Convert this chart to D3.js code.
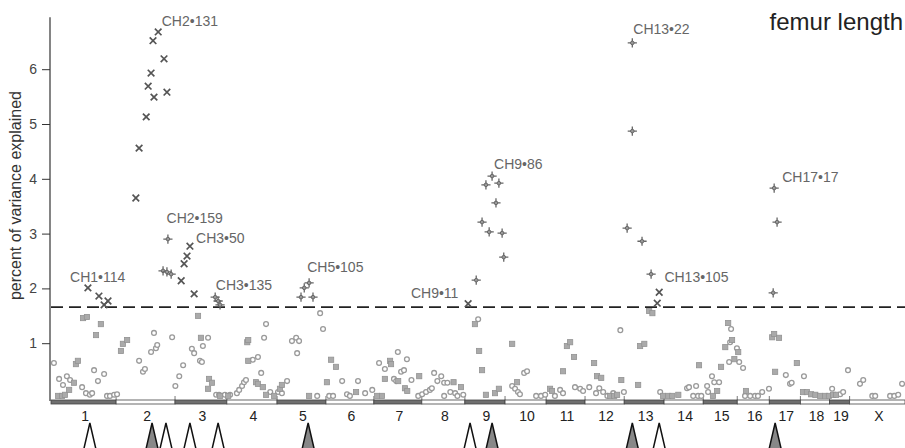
<!DOCTYPE html>
<html>
<head>
<meta charset="utf-8">
<script src="https://cdn.jsdelivr.net/npm/d3@7"></script>
<style>
  body { margin: 0; background: #fff; }
  svg { display: block; font-family: "Liberation Sans", Arial, sans-serif; }
</style>
</head>
<body>
<div id="chart"></div>
<script>
// chromosome names and lengths (Mb)
const chromosomes = ['1','2','3','4','5','6','7','8','9','10','11','12','13','14','15','16','17','18','19','X'];
const chrLengths = [201,182,160,155,151,148,148,133,124,127,120,121,123,121,105,99,96,90,62,171];

// [chromosome, position Mb, percent of variance explained]
const circlePoints = [
  ['1',9,0.62],['1',25,0.33],['1',37,0.22],['1',49,0.38],['1',59,0.31],['1',96,0.18],['1',108,0.07],
  ['1',120,0.04],['1',127,0.07],['1',133,0.49],['1',145,0.29],['1',164,0.42],['1',173,0.02],['1',182,0.02],['1',195,0.04],
  ['2',3,0.05],['2',71,0.66],['2',83,0.46],['2',89,0.51],['2',108,0.82],['2',117,1.17],['2',123,0.89],['2',127,0.95],['2',173,1.09],
  ['3',1,0.20],['3',13,0.38],['3',25,0.58],['3',52,0.88],['3',59,0.80],['3',77,0.66],['3',86,0.93],['3',83,0.64],['3',102,1.08],
  ['3',127,0.04],['3',136,0.04],['3',154,0.04],
  ['4',10,0.04],['4',31,0.07],['4',38,0.13],['4',47,0.20],['4',53,0.27],['4',59,0.31],['4',80,0.68],['4',96,0.73],
  ['4',115,1.08],['4',121,1.33],['4',106,0.44],['4',134,0.09],
  ['5',3,0.09],['5',15,0.07],['5',31,0.29],['5',46,1.02],['5',59,1.08],['5',68,1.02],['5',62,0.80],['5',133,1.53],['5',142,1.24],['5',124,0.02],
  ['6',50,0.29],['6',99,0.29],['6',65,0.05],['6',121,0.07],['6',143,0.13],['6',10,0.02],['6',22,0.02],['6',74,0.02],
  ['7',16,0.62],['7',34,0.51],['7',74,0.82],['7',102,0.69],['7',84,0.46],['7',93,0.49],['7',62,0.33],['7',69,0.29],['7',116,0.31],['7',137,0.02],
  ['8',1,0.05],['8',13,0.09],['8',25,0.13],['8',31,0.16],['8',38,0.44],['8',60,0.38],['8',48,0.29],['8',69,0.26],['8',79,0.26],
  ['8',88,0.09],['8',103,0.07],['8',69,0.02],['8',110,0.02],['8',128,0.04],
  ['9',41,1.42],
  ['10',22,0.20],['10',31,0.15],['10',40,0.09],['10',46,0.05],['10',59,0.44],['10',68,0.47],['10',96,0.02],['10',111,0.02],['10',124,0.04],
  ['11',43,0.13],['11',52,0.07],['11',89,0.18],['11',105,0.15],['11',114,0.11],['11',27,0.02],
  ['12',13,0.18],['12',34,0.07],['12',44,0.16],['12',56,0.09],['12',69,0.02],['12',87,0.07],['12',109,1.22],['12',120,0.09],
  ['13',111,0.09],
  ['14',71,0.16],['14',77,0.18],['14',99,0.20],['14',90,0.02],['14',105,0.02],['14',115,0.02],
  ['15',12,0.20],['15',27,0.38],['15',34,0.27],['15',49,0.27],['15',15,0.09],['15',86,1.24],['15',83,1.00],['15',104,0.89],['15',80,0.64],
  ['16',6,0.64],['16',18,0.53],['16',24,0.02],['16',40,0.02],['16',55,0.02],['16',64,0.02],['16',77,0.09],['16',98,0.15],
  ['17',51,0.40],['17',64,0.24],['17',69,0.26],
  ['18',11,0.38],
  ['19',8,0.15],['19',33,0.05],['19',42,0.09],['19',57,0.49],
  ['X',32,0.24],['X',42,0.31],['X',70,0.02],['X',79,0.02],['X',125,0.02],['X',138,0.02],['X',150,0.04],['X',162,0.24]
];

const squarePoints = [
  ['1',22,0.02],['1',34,0.02],['1',43,0.04],['1',56,0.13],['1',71,0.26],['1',77,0.60],['1',83,0.66],['1',99,1.44],['1',111,1.46],
  ['1',139,1.13],['1',154,1.33],
  ['2',15,0.84],['2',21,0.97],['2',34,1.04],
  ['3',71,1.48],['3',80,1.08],['3',105,0.33],['3',114,0.26],['3',102,0.15],['3',139,0.02],
  ['4',4,0.02],['4',66,0.66],['4',63,1.00],['4',66,1.04],['4',90,0.27],['4',96,0.24],['4',111,0.18],['4',121,0.04],['4',146,0.02],
  ['5',9,0.15],['5',15,0.22],['5',99,0.02],
  ['6',3,0.27],['6',16,0.68],['6',31,0.55],['6',93,0.09],
  ['7',50,0.66],['7',53,0.60],['7',34,0.33],['7',75,0.29],['7',140,0.38],['7',96,0.16],['7',103,0.11],['7',10,0.02],['7',25,0.02],
  ['8',98,0.27],['8',121,0.18],
  ['9',31,1.33],['9',44,0.84],['9',53,0.49],['9',65,0.04],['9',93,0.07],['9',105,0.15],
  ['10',22,0.97],['10',37,0.27],
  ['11',64,0.93],['11',74,1.00],['11',86,0.73],['11',52,0.47],['11',12,0.15],['11',18,0.11],
  ['12',28,0.62],['12',37,0.38],['12',50,0.35],['12',112,0.31],['12',77,0.02],['12',90,0.02],['12',99,0.04],
  ['13',43,0.22],['13',49,0.93],['13',62,0.97],['13',77,1.57],['13',87,1.53],['13',120,0.02],
  ['14',13,0.02],['14',25,0.02],['14',44,0.04],['14',108,0.58],
  ['15',30,0.02],['15',43,0.11],['15',55,0.55],['15',77,1.35],['15',89,1.04],['15',68,0.91],['15',96,0.69],
  ['16',3,0.82],['16',27,0.11],
  ['17',9,1.09],['17',15,1.15],['17',30,1.08],['17',18,0.46],['17',85,0.62],
  ['18',8,0.09],['18',20,0.09],['18',33,0.05],['18',46,0.04],['18',61,0.02],['18',76,0.02],['18',88,0.02],
  ['19',11,0.04],['19',20,0.04]
];

// significant markers
const crossPoints = [
  ['1',114,2.01],['1',148,1.86],['1',164,1.70],['1',176,1.77],
  ['2',130,6.68],['2',114,6.52],['2',148,6.19],['2',108,5.93],['2',99,5.69],['2',157,5.58],['2',117,5.49],['2',93,5.13],['2',71,4.56],['2',61,3.65],
  ['3',46,2.77],['3',37,2.59],['3',28,2.45],['3',19,2.14],['3',59,1.90],
  ['9',10,1.72],
  ['13',108,1.93],['13',102,1.73]
];

const plusPoints = [
  ['2',160,2.90],['2',145,2.32],['2',157,2.30],['2',170,2.26],
  ['3',124,1.84],['3',133,1.77],['3',139,1.70],
  ['5',99,2.10],['5',84,2.01],['5',74,1.84],['5',111,1.84],
  ['9',35,2.15],['9',84,4.05],['9',65,3.89],['9',105,3.92],['9',96,3.56],['9',53,3.21],['9',75,3.03],['9',115,3.01],['9',120,2.57],
  ['13',25,6.48],['13',25,4.87],['13',9,3.10],['13',55,2.86],['13',83,2.26],
  ['17',15,3.83],['17',24,3.21],['17',12,1.92]
];

// peak labels: text, chromosome, Mb, value, anchor
const peakLabels = [
  ['CH1\u2022114','1',59,2.12,'start'],
  ['CH2\u2022131','2',141,6.79,'start'],
  ['CH2\u2022159','2',156,3.19,'start'],
  ['CH3\u202250','3',65,2.82,'start'],
  ['CH3\u2022135','3',126,1.97,'start'],
  ['CH5\u2022105','5',93,2.30,'start'],
  ['CH9\u202211','8',113,1.82,'end'],
  ['CH9\u202286','9',90,4.18,'start'],
  ['CH13\u202222','13',28,6.64,'start'],
  ['CH13\u2022105','13',124,2.12,'start'],
  ['CH17\u202217','17',40,3.94,'start']
];

// QTL arrows below the axis: chromosome, Mb, filled
const qtlArrows = [
  ['1',120,false],['2',111,true],['2',154,false],['3',46,false],['3',133,false],
  ['5',96,true],['9',16,false],['9',84,true],['13',25,true],['13',108,false],['17',18,true]
];

const threshold = 1.66;
const yTicks = [1,2,3,4,5,6];

const width = 905, height = 448;
const margin = { left: 51, right: 0, top: 17, bottom: 50 };

const chrStart = {};
let acc = 0;
chromosomes.forEach((c, i) => { chrStart[c] = acc; acc += chrLengths[i]; });
const genomeLen = acc;

const x = d3.scaleLinear().domain([0, genomeLen]).range([margin.left, width - margin.right]);
const y = d3.scaleLinear().domain([0, 7]).range([398, 14.4]);
const gx = (c, mb) => x(chrStart[c] + mb);

const svg = d3.select('#chart').append('svg')
  .attr('width', width).attr('height', height);

// y axis
const yAxis = d3.axisLeft(y).tickValues(yTicks).tickSize(8).tickPadding(5).tickFormat(d3.format('d'));
const yg = svg.append('g').attr('transform', `translate(${margin.left - 1},0)`).call(yAxis);
yg.select('.domain').remove();
yg.selectAll('.tick line').attr('stroke', '#333');
yg.selectAll('.tick text').attr('font-size', 14).attr('fill', '#444')
  .attr('font-family', '"Liberation Sans", Arial, sans-serif');
svg.append('line')
  .attr('x1', margin.left - 1).attr('x2', margin.left - 1)
  .attr('y1', y(6.95)).attr('y2', 401)
  .attr('stroke', '#333').attr('stroke-width', 1.2);

svg.append('text')
  .attr('transform', `translate(21,${(y(6.95) + 398) / 2 - 12}) rotate(-90)`)
  .attr('text-anchor', 'middle')
  .attr('font-size', 16)
  .attr('fill', '#333')
  .text('percent of variance explained');

// chromosome bar
const bar = svg.append('g');
chromosomes.forEach((c, i) => {
  const x0 = x(chrStart[c]), x1 = x(chrStart[c] + chrLengths[i]);
  bar.append('rect')
    .attr('x', x0).attr('y', 400).attr('width', x1 - x0).attr('height', 4)
    .attr('fill', i % 2 === 0 ? '#6f6f6f' : '#fff')
    .attr('stroke', '#444').attr('stroke-width', 0.8);
  if (i > 0) {
    bar.append('line')
      .attr('x1', x0).attr('x2', x0).attr('y1', 396).attr('y2', 400)
      .attr('stroke', '#555').attr('stroke-width', 0.8);
  }
  bar.append('text')
    .attr('x', (x0 + x1) / 2 + 1.5).attr('y', 421)
    .attr('text-anchor', 'middle')
    .attr('font-size', 14).attr('fill', '#222')
    .text(c);
});

// non significant markers
svg.append('g').selectAll('circle').data(circlePoints).enter().append('circle')
  .attr('cx', d => gx(d[0], d[1]))
  .attr('cy', d => y(d[2]) - 1)
  .attr('r', 2.4)
  .attr('fill', '#fff')
  .attr('stroke', '#9a9a9a')
  .attr('stroke-width', 1.3);

svg.append('g').selectAll('rect').data(squarePoints).enter().append('rect')
  .attr('x', d => gx(d[0], d[1]) - 2.6)
  .attr('y', d => y(d[2]) - 3.6)
  .attr('width', 5.2).attr('height', 5.2)
  .attr('fill', '#aaa')
  .attr('stroke', '#939393')
  .attr('stroke-width', 0.8);

// threshold
svg.append('line')
  .attr('x1', margin.left).attr('x2', width)
  .attr('y1', y(threshold)).attr('y2', y(threshold))
  .attr('stroke', '#222').attr('stroke-width', 1.7)
  .attr('stroke-dasharray', '12,6');

// significant markers
const s = 3.3;
svg.append('g').selectAll('path').data(crossPoints).enter().append('path')
  .attr('transform', d => `translate(${gx(d[0], d[1])},${y(d[2])})`)
  .attr('d', `M${-s},${-s}L${s},${s}M${-s},${s}L${s},${-s}`)
  .attr('stroke', '#555').attr('stroke-width', 1.7).attr('fill', 'none');

const p = 4.6;
const plusG = svg.append('g').selectAll('g').data(plusPoints).enter().append('g')
  .attr('transform', d => `translate(${gx(d[0], d[1])},${y(d[2])})`);
plusG.append('path')
  .attr('d', `M${-p},0L${p},0M0,${-p}L0,${p}`)
  .attr('stroke', '#666').attr('stroke-width', 1.3);
plusG.append('circle')
  .attr('r', 1.8).attr('fill', '#999').attr('stroke', '#666').attr('stroke-width', 1);

// peak labels
svg.append('g').selectAll('text').data(peakLabels).enter().append('text')
  .attr('x', d => gx(d[1], d[2]))
  .attr('y', d => y(d[3]))
  .attr('text-anchor', d => d[4])
  .attr('font-size', 14)
  .attr('fill', '#666')
  .text(d => d[0]);

// arrows
svg.append('g').selectAll('path').data(qtlArrows).enter().append('path')
  .attr('transform', d => `translate(${gx(d[0], d[1])},423)`)
  .attr('d', 'M-6.5,28L0,0L6.5,28')
  .attr('fill', d => d[2] ? '#888' : '#fff')
  .attr('stroke', '#111')
  .attr('stroke-width', 1.5)
  .attr('stroke-linejoin', 'miter');

// title
svg.append('text')
  .attr('x', 903).attr('y', 30)
  .attr('text-anchor', 'end')
  .attr('font-size', 24)
  .attr('fill', '#222')
  .text('femur length');
</script>
</body>
</html>
